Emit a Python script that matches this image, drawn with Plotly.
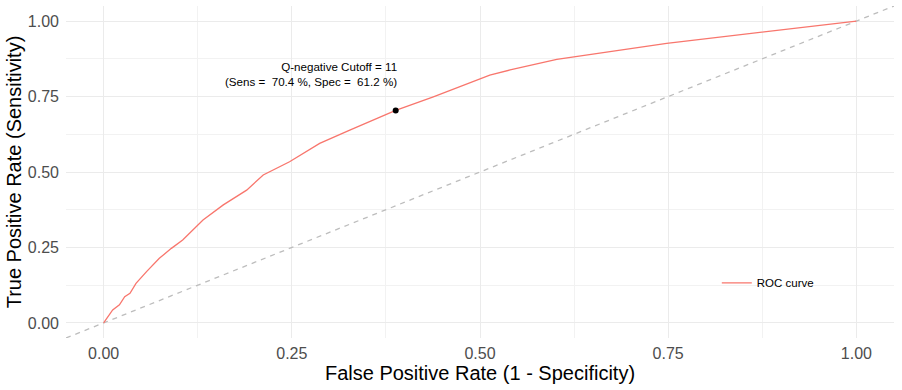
import plotly.graph_objects as go

# ROC curve data
fpr = [0, 0.008, 0.012, 0.021, 0.028, 0.035, 0.043, 0.057, 0.074, 0.09, 0.105,
       0.132, 0.159, 0.19, 0.212, 0.247, 0.287, 0.327, 0.363, 0.388, 0.438,
       0.473, 0.513, 0.54, 0.602, 0.748, 0.877, 1.0]
tpr = [0, 0.026, 0.043, 0.06, 0.087, 0.098, 0.131, 0.17, 0.214, 0.247, 0.275,
       0.341, 0.391, 0.44, 0.49, 0.534, 0.595, 0.639, 0.678, 0.704, 0.749,
       0.782, 0.821, 0.838, 0.873, 0.926, 0.963, 1.0]

cutoff_value = 11
cutoff_sens = 0.704
cutoff_spec = 0.612

tick_vals = [0, 0.25, 0.5, 0.75, 1.0]
tick_text = ["0.00", "0.25", "0.50", "0.75", "1.00"]

axis_range = [-0.05, 1.05]

FONT = "Liberation Sans, Arial, sans-serif"
NB = "\u00a0"

fig = go.Figure()

# diagonal reference line (abline spanning the panel)
fig.add_trace(go.Scatter(
    x=axis_range, y=axis_range, mode="lines",
    line=dict(color="#bdbdbd", width=1.3, dash="5px,5px"),
    showlegend=False, hoverinfo="skip"))

fig.add_trace(go.Scatter(
    x=fpr, y=tpr, mode="lines", name="ROC curve",
    line=dict(color="#F8766D", width=1.3)))

fig.add_trace(go.Scatter(
    x=[1 - cutoff_spec], y=[cutoff_sens], mode="markers",
    marker=dict(color="black", size=6), showlegend=False))

fig.add_annotation(
    x=1 - cutoff_spec, y=0.83, xref="x", yref="y", xshift=3, yshift=-2,
    text=(f"Q-negative Cutoff = {cutoff_value}<br>"
          f"(Sens ={NB}{NB}{cutoff_sens*100:.1f} %, Spec ={NB}{NB}{cutoff_spec*100:.1f} %)"),
    showarrow=False, xanchor="right", yanchor="middle", align="right",
    font=dict(family=FONT, size=11.6, color="black"))

axis_common = dict(
    range=axis_range, tickvals=tick_vals, ticktext=tick_text,
    showgrid=True, gridcolor="#ebebeb", gridwidth=1.4,
    zeroline=False, showline=False, ticks="", automargin=False,
    tickfont=dict(family=FONT, size=16, color="#4d4d4d"),
    minor=dict(dtick=0.125, tick0=0, showgrid=True, gridcolor="#f2f2f2", gridwidth=0.8),
)

fig.update_layout(
    width=902, height=390,
    margin=dict(l=66, r=8, t=6, b=52),
    paper_bgcolor="white", plot_bgcolor="white",
    font=dict(family=FONT, color="black"),
    xaxis=dict(**axis_common,
               title=dict(text="False Positive Rate (1 - Specificity)",
                          font=dict(family=FONT, size=20, color="black"),
                          standoff=0),
               ticklabelstandoff=4),
    yaxis=dict(**axis_common,
               title=dict(text="True Positive Rate (Sensitivity)",
                          font=dict(family=FONT, size=20, color="black"),
                          standoff=0),
               ticklabelstandoff=6),
    legend=dict(x=0.786, y=0.166, xanchor="left", yanchor="middle",
                bgcolor="rgba(0,0,0,0)",
                font=dict(family=FONT, size=11.5, color="black")),
    showlegend=True,
)

fig.write_html("out.html", config={"displayModeBar": False},
               post_script="document.body.style.margin='0';document.body.style.padding='0';")
